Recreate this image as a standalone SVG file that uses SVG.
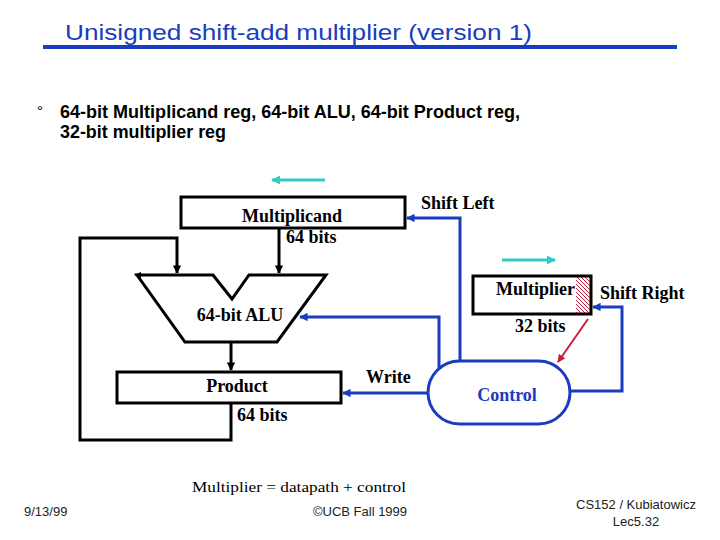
<svg xmlns="http://www.w3.org/2000/svg" width="720" height="540" viewBox="0 0 720 540">
<style>
.blk{fill:none;stroke:#000;stroke-width:3}
.bl{fill:none;stroke:#1a3cbf;stroke-width:3}
.lbl{font-family:"Liberation Serif","Times New Roman",serif;font-weight:bold;font-size:18px;fill:#000}
.foot{font-family:"Liberation Sans",Arial,sans-serif;font-size:13px;fill:#222}
</style>
<defs>
<marker id="ak" viewBox="0 0 10 10" refX="9" refY="5" markerWidth="2.8" markerHeight="2.8" orient="auto" markerUnits="strokeWidth"><path d="M0,0 L10,5 L0,10 z" fill="#000"/></marker>
<marker id="ab" viewBox="0 0 10 10" refX="9" refY="5" markerWidth="2.8" markerHeight="2.8" orient="auto" markerUnits="strokeWidth"><path d="M0,0 L10,5 L0,10 z" fill="#1a3cbf"/></marker>
<marker id="ac" viewBox="0 0 10 10" refX="9" refY="5" markerWidth="3" markerHeight="3" orient="auto" markerUnits="strokeWidth"><path d="M0,0 L10,5 L0,10 z" fill="#33ccc4"/></marker>
<marker id="ar" viewBox="0 0 10 10" refX="9" refY="5" markerWidth="4" markerHeight="4" orient="auto" markerUnits="strokeWidth"><path d="M0,0 L10,5 L0,10 z" fill="#c0203c"/></marker>
<pattern id="hatch" patternUnits="userSpaceOnUse" width="4" height="4"><rect width="4" height="4" fill="#fff"/><path d="M-1,-1 L5,5" stroke="#c0203c" stroke-width="1"/></pattern>
</defs>
<rect width="720" height="540" fill="#fff"/>

<g id="title">
<text x="65" y="40" font-family="'Liberation Sans',Arial,sans-serif" font-size="22" fill="#1a3cbf" textLength="467" lengthAdjust="spacingAndGlyphs">Unisigned shift-add multiplier (version 1)</text>
<line x1="43" y1="47" x2="677" y2="47" stroke="#1a3cbf" stroke-width="4"/>
</g>
<g id="bullet" font-family="'Liberation Sans',Arial,sans-serif" font-weight="bold" font-size="19" fill="#000">
<text x="37" y="116" font-size="15" font-weight="normal">°</text>
<text x="60" y="118" textLength="460" lengthAdjust="spacingAndGlyphs">64-bit Multiplicand reg, 64-bit ALU, 64-bit Product reg,</text>
<text x="60" y="138" textLength="166" lengthAdjust="spacingAndGlyphs">32-bit multiplier reg</text>
</g>

<g id="connectors">
<line x1="325" y1="180" x2="272" y2="180" stroke="#33ccc4" stroke-width="3" marker-end="url(#ac)"/>
<line x1="502" y1="260" x2="555" y2="260" stroke="#33ccc4" stroke-width="3" marker-end="url(#ac)"/>
<line class="blk" x1="279" y1="228" x2="279" y2="273" marker-end="url(#ak)"/>
<polyline class="blk" points="231,403 231,440 80,440 80,238 177,238 177,273" marker-end="url(#ak)"/>
<line class="blk" x1="231" y1="342" x2="231" y2="370" marker-end="url(#ak)"/>
<line class="bl" x1="428" y1="393" x2="343" y2="393" marker-end="url(#ab)"/>
<polyline class="bl" points="439,368 439,317 300,317" marker-end="url(#ab)"/>
<polyline class="bl" points="460,361 460,218 407,218" marker-end="url(#ab)"/>
<polyline class="bl" points="570,391 622,391 622,307 593,307" marker-end="url(#ab)"/>
<line x1="588" y1="319" x2="558" y2="362" stroke="#c0203c" stroke-width="2" marker-end="url(#ar)"/>
</g>

<g id="multiplicand">
<rect class="blk" x="181" y="197" width="224" height="31"/>
<text class="lbl" x="292" y="222" text-anchor="middle">Multiplicand</text>
<text class="lbl" x="286" y="243">64 bits</text>
<text class="lbl" x="421" y="209">Shift Left</text>
</g>

<g id="alu">
<polygon class="blk" points="137,275 213,275 232,299 249,275 326,275 277,342 185,342" stroke-linejoin="miter"/>
<path d="M134,275 L141,272 L141,278 z" fill="#000"/>
<text class="lbl" x="240" y="321" text-anchor="middle">64-bit ALU</text>
</g>

<g id="product">
<rect class="blk" x="117" y="372" width="224" height="31"/>
<text class="lbl" x="237" y="392" text-anchor="middle">Product</text>
<text class="lbl" x="237" y="421">64 bits</text>
<text class="lbl" x="366" y="383">Write</text>
</g>

<g id="multiplier">
<rect x="576" y="277" width="15" height="37" fill="url(#hatch)"/>
<rect class="blk" x="473" y="276" width="118" height="38"/>
<text class="lbl" x="575" y="295" text-anchor="end">Multiplier</text>
<text class="lbl" x="515" y="332">32 bits</text>
<text class="lbl" x="600" y="299">Shift Right</text>
</g>

<g id="control">
<rect x="428" y="361" width="142" height="63" rx="31.5" ry="31.5" fill="#fff" stroke="#1a3cbf" stroke-width="3"/>
<text x="507" y="401" text-anchor="middle" font-family="'Liberation Serif','Times New Roman',serif" font-weight="bold" font-size="18" fill="#1a3cbf">Control</text>
</g>

<g id="footer">
<text x="299" y="492" text-anchor="middle" font-family="'Liberation Serif','Times New Roman',serif" font-size="15" fill="#000" textLength="214" lengthAdjust="spacingAndGlyphs">Multiplier = datapath + control</text>
<text class="foot" x="24" y="516">9/13/99</text>
<text class="foot" x="360" y="516" text-anchor="middle">©UCB Fall 1999</text>
<text class="foot" x="636" y="509" text-anchor="middle">CS152 / Kubiatowicz</text>
<text class="foot" x="636" y="526" text-anchor="middle">Lec5.32</text>
</g>
</svg>
